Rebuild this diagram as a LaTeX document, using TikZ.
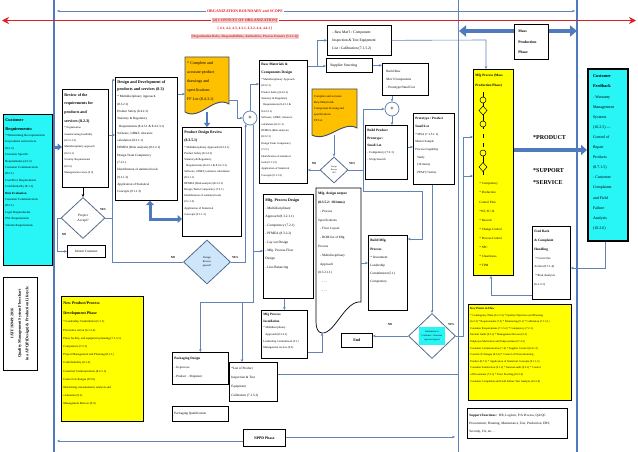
\documentclass[tikz,border=0pt]{standalone}
\usepackage{fontspec}
\setmainfont{Liberation Serif}
\usetikzlibrary{arrows.meta,shapes.geometric,calc}
\newcommand{\fs}[2]{\fontsize{#1}{#2}\selectfont}
\newcommand{\bxt}[3]{\parbox[c][#2pt][t]{#1pt}{\raggedright #3}}
\newcommand{\bxm}[3]{\parbox[c][#2pt][c]{#1pt}{\raggedright #3}}
\newcommand{\bxc}[3]{\parbox[c][#2pt][c]{#1pt}{\centering #3}}
\definecolor{cb}{RGB}{100,132,184}
\definecolor{tb}{RGB}{79,122,190}
\definecolor{cy}{RGB}{40,245,245}
\definecolor{yl}{RGB}{255,255,0}
\definecolor{og}{RGB}{255,192,0}
\definecolor{rd}{RGB}{222,30,36}
\definecolor{pk}{RGB}{242,208,208}
\definecolor{lb}{RGB}{205,230,250}
\definecolor{dg}{RGB}{84,108,138}
\definecolor{dk}{RGB}{62,80,100}
\begin{document}
\begin{tikzpicture}[x=1pt,y=-1pt,
 bx/.style={draw=black,line width=0.7pt,anchor=north west,inner sep=2pt,fill=white},
 conn/.style={draw=cb,line width=0.6pt},
 arr/.style={conn,-{Stealth[length=3pt,width=2.6pt]}},
 thk/.style={draw=tb,line width=3pt,-{Triangle[length=4.5pt,width=7pt]}},
 lbl/.style={font=\bfseries\fs{3}{3},inner sep=0pt},
 dia/.style={diamond,draw=dg,line width=0.8pt,fill=white,inner sep=0pt,align=center},
 plus/.style={circle,draw=cb,line width=0.8pt,fill=white,minimum size=14pt,inner sep=0pt,font=\bfseries\fs{6}{6}},
 docst/.style={fill=og,draw=dk,line width=0.9pt}]
\fill[white] (0,0) rectangle (638,452);
\useasboundingbox (0,0) rectangle (638,452);

% boundary lines
\draw[tb,line width=2.2pt] (54,0) -- (54,452);
\draw[tb,line width=2.2pt] (577,0) -- (577,452);
\draw[cb,line width=0.7pt] (458,0) -- (458,452);

% top titles
\node[font=\bfseries\fs{3.9}{4},text=rd,inner sep=1pt] (t1) at (245,11) {ORGANIZATION BOUNDARY and SCOPE};
\node[font=\bfseries\fs{3.9}{4},text=rd,fill=pk,inner sep=1pt] (t2) at (245,20.5) {[4] CONTEXT OF ORGANIZATION]};
\node[font=\bfseries\fs{3.6}{4},text=rd,inner sep=1pt] (t3) at (245,28.5) {[ 4.1, 4.2, 4.3, 4.3.1, 4.3.2, 4.4, 4.4.1 ]};
\node[font=\bfseries\fs{3.3}{4},text=rd,fill=pk,inner sep=1pt] (t4) at (245,36.5) {[Organization Roles, Responsibilities, Authorities, Process Owners (5.3.1.2)]};
\coordinate (a11l) at (57,11);
\coordinate (a11r) at (575,11);
\draw[arr] (t1.west) -- (a11l);
\draw[arr] (t1.east) -- (a11r);
\coordinate (r21l) at (2,20.5);
\coordinate (r21r) at (636,20.5);
\draw[rd,line width=1.8pt,-{Stealth[length=7pt,width=7pt]}] (t2.west) -- (r21l);
\draw[rd,line width=1.8pt,-{Stealth[length=7pt,width=7pt]}] (t2.east) -- (r21r);

% ---------- nodes ----------
\node[bx,fill=cy] (cr) at (3,114) {\bxt{45}{147}{\vspace*{2pt}{\bfseries\fs{4.3}{9}Customer\\Requirements:\par}{\fs{3.1}{6.4}* Determining the requirements\\for products and services\\(8.2.2)\\* Customer Specific\\Requirements (4.3.2)\\* Customer Communication\\(8.2.1)\\* Cost/Price Requirements\\* Confidentiality (8.1.1)\\{\bfseries Risk Evaluation}\\* Customer Communication\\(8.2.1)\\* Legal Requirements\\* PSC Requirements\\* Volume Requirements\par}}};

\node[bx] (rev) at (62,89) {\bxt{42}{94}{\vspace*{2pt}{\bfseries\fs{4}{8.7}Review of the\\requirements for\\products and\\services (8.2.3)\par}{\fs{2.8}{6.4}* Organization\\manufacturing feasibility\\(8.2.3.1.3)\\* Multidisciplinary approach\\(8.2.3.1)\\* Scrutiny Requirements\\(8.2.3)\\* Management review (9.3)\par}}};

\node[dia,minimum width=44pt,minimum height=41pt,font=\fs{3.4}{5}] (pa) at (83,218) {Project\\Accept?};
\node[bx] (inf) at (67,245) {\bxc{34}{8}{\fs{3.3}{4}Inform Customer}};

\node[bx] (dd) at (115,77) {\bxt{58}{119}{\vspace*{1pt}{\bfseries\fs{4.1}{7.3}Design and Development of\\products and services (8.3)\par}{\fs{3.2}{7.3}* Multidisciplinary Approach\\(8.3.2.1)\\* Product Safety (8.4.2.3)\\* Statutory \& Regulatory\\\hspace*{2pt}Requirements (8.4.3.1 \& 8.4.2.3.1)\\* Software, GD\&T, tolerance\\calculation (8.3.1.1)\\* DFMEA (Risk analysis) (8.3.2.1)\\* Design Team Competency\\(7.2.1)\\* Identification of statistical tools\\(9.1.1.2)\\* Application of Statistical\\Concepts (9.1.1.3)\par}}};

\draw[docst] (185,57) -- (229,57) -- (229,104) .. controls (214,95) and (200,121) .. (185,112) -- cycle;
\node[anchor=north west,inner sep=2pt] (doc1) at (185,57) {\bxt{40}{51}{\vspace*{2pt}{\fs{4.1}{9}* Complete and\\accurate product\\drawings and\\specifications\\* FF Lot (8.4.3.1)\par}}};

\node[plus] (c1) at (250,118) {+};

\node[bx] (pdr) at (182,127) {\bxt{55}{105}{\vspace*{2pt}{\bfseries\fs{3.8}{8}Product Design Review\\(8.3.5.1)\par}{\fs{2.9}{6.1}* Multidisciplinary Approach (8.3.2.1)\\* Product Safety (8.3.2.3)\\* Statutory \& Regulatory\\\hspace*{2pt}Requirements (8.4.3.1 \& 8.4.2.3.1)\\* Software, GD\&T, tolerance calculation\\(8.3.1.1)\\* DFMEA (Risk analysis) (8.3.2.1)\\* Design Team Competency (7.2.1)\\* Identification of statistical tools\\(9.1.1.2)\\Application of Statistical\\Concepts (9.1.1.3)\par}}};

\node[dia,fill=lb,minimum width=47pt,minimum height=44pt,font=\fs{2.7}{4}] (drp) at (207,262) {Design\\Review\\passed?};

\node[bx] (rmc) at (259,60) {\bxt{44}{119}{\vspace*{1pt}{\bfseries\fs{3.6}{8}Raw Materials \&\\Components Design\par}{\fs{2.8}{6.4}* Multidisciplinary Approach\\(8.3.2.1)\\* Product Safety (8.4.2.3)\\* Statutory \& Regulatory\\\hspace*{2pt}Requirements (8.4.3.1 \&\\8.4.2.3.1)\\* Software, GD\&T, tolerance\\calculation (8.3.1.1)\\* DFMEA (Risk analysis)\\(8.3.2.1)\\* Design Team Competency\\(7.2.1)\\* Identification of statistical\\tools (9.1.1.2)\\* Application of Statistical\\Concepts (9.1.1.3)\par}}};

\draw[docst] (312,89) -- (357,89) -- (357,128) .. controls (343,120) and (327,143) .. (312,135) -- cycle;
\node[anchor=north west,inner sep=2pt] (doc2) at (312,89) {\bxt{41}{42}{\vspace*{4pt}{\fs{3}{6}Complete and accurate\\Raw Material \&\\Component drawing and\\specifications\\* FF Lot\par}}};

\node[bx] (rmi) at (327,25) {\bxm{60}{26}{\fs{3.7}{8}\hspace*{3pt}- Raw Mat'l / Component\\\hspace*{3pt}Inspection \& Test Equipment\\\hspace*{3pt}List / Calibration (7.1.5.2)}};
\node[bx] (ss) at (326,58) {\bxm{42}{10}{\fs{3.7}{4}\hspace*{2pt}Supplier Sourcing}};
\node[bx] (brm) at (382,63) {\bxm{42}{28}{\fs{3.3}{8}\hspace*{2pt}Build Raw\\\hspace*{2pt}Mat'l Components\\\hspace*{2pt}- Prototype/Small Lot}};
\node[plus] (c2) at (392,109) {+};
\node[bx] (bpp) at (365,125) {\bxt{38}{50}{\vspace*{2pt}{\bfseries\fs{3.4}{7.3}Build Product\\Prototype /\\Small Lot\par}{\fs{3.1}{7.3}- Competency (7.2.1)\\- Scrap/rework\par}}};
\node[bx] (pps) at (413,113) {\bxt{37}{67}{\vspace*{2pt}{\bfseries\fs{3.3}{7.7}Prototype / Product\\Small Lot\par}{\fs{3.1}{7.7}* MSA (7.1.5.1.1)\\* Master Sample\\* Process Capability\\\hspace*{2pt}Study\\\hspace*{2pt}(10 items)\\\hspace*{2pt}PPAP (7 items)\par}}};

\node[dia,minimum width=28pt,minimum height=26pt,font=\fs{2.1}{2.8}] (sd) at (334,170) {Design\\Review\\OK?};

\node[bx] (mpd) at (263,194) {\bxt{46}{100}{\vspace*{2pt}{\bfseries\fs{3.9}{8.4}Mfg. Process Design\par}{\fs{3.4}{8.4}- Multidisciplinary\\Approach (8.3.2.1.1)\\- Competency (7.2.1)\\- PFMEA (8.3.2.2)\\- Lay out Design\\- Mfg. Process Flow\\Design\\- Line Balancing\par}}};

\draw[black,line width=0.7pt,fill=white] (316,188) -- (361,188) -- (361,302) .. controls (345,300) and (335,334) .. (322,333) .. controls (318,333) and (316,328) .. (316,322) -- cycle;
\node[anchor=north west,inner sep=2pt] (mdo) at (316,188) {\bxt{41}{113}{\vspace*{2pt}{\bfseries\fs{3.5}{8.8}Mfg. design output\\(8.3.5.2: 10 items)\par}{\fs{3.3}{8.8}\hspace*{2pt}- Process\\Specifications\\\hspace*{2pt}- Floor Layout\\\hspace*{2pt}- BOM list of Mfg\\Process\\\hspace*{2pt}- Multidisciplinary\\\hspace*{2pt}Approach\\(8.3.2.1.1)\\\hspace*{4pt}- ...\\\hspace*{4pt}- ...\par}}};

\node[bx] (bmp) at (368,235) {\bxt{35}{71}{\vspace*{2pt}{\bfseries\fs{3.5}{8.2}Build Mfg.\\Process\par}{\fs{3.3}{8.2}* Investment\\* Leadership\\Commitment (5.1)\\* Competency\par}}};

\node[dia,minimum width=47pt,minimum height=45pt] (cad) at (432,336) {};
\node[fill=cy,inner sep=1pt,minimum width=26pt,minimum height=18pt,font=\fs{2.4}{3.6},align=center] (cadt) at (432,336) {Submission to\\Customer / Customer\\approval agreed};
\node[bx] (end) at (341,333) {\bxc{27}{10}{\bfseries\fs{4}{5}End}};

\node[bx,fill=yl,line width=0.8pt] (mfg) at (473,69) {\bxt{36}{202}{\vspace*{3pt}{\bfseries\fs{3.4}{10}Mfg Process (Mass\\Production Phase)\par}\vspace{89pt}{\fs{3.2}{9.1}\hspace*{4pt}* Competency\\\hspace*{4pt}* Production\\\hspace*{4pt}Control Plan\\\hspace*{4pt}*WI, SU, R\\\hspace*{4pt}* Rework\\\hspace*{4pt}* Change Control\\\hspace*{4pt}* Process Control\\\hspace*{4pt}* SPC\\\hspace*{4pt}* Cleanliness\\\hspace*{4pt}* TPM\par}}};
% flow glyph inside Mfg Process box
\draw[black,line width=0.5pt] (483,92) -- (483,129) (483,134) -- (483,138) (483,143) -- (483,147) (483,150) -- (483,175);
\filldraw[fill=yl,draw=black,line width=0.5pt] (483,100) circle[radius=3pt];
\filldraw[fill=yl,draw=black,line width=0.5pt] (483,106) -- (487,110.5) -- (483,115) -- (479,110.5) -- cycle;
\filldraw[fill=yl,draw=black,line width=0.5pt] (483,124) circle[radius=3pt];
\filldraw[fill=yl,draw=black,line width=0.5pt] (483,153) circle[radius=3pt];
\filldraw[fill=yl,draw=black,line width=0.5pt] (483,162.5) -- (487,167) -- (483,171.5) -- (479,167) -- cycle;

\node[bx] (mpp) at (514,24) {\bxm{30}{31}{\bfseries\fs{3.8}{10.5}\hspace*{2pt}Mass\\\hspace*{2pt}Production\\\hspace*{2pt}Phase}};

\node[font=\bfseries\fs{6}{6},anchor=west,inner sep=0pt] (prod) at (533,138) {*PRODUCT};
\node[font=\bfseries\fs{6}{6},anchor=west,inner sep=0pt] (supp) at (533,171) {*SUPPORT};
\node[font=\bfseries\fs{6}{6},anchor=west,inner sep=0pt] (serv) at (533,183) {*SERVICE};

\node[bx,fill=cy,line width=2pt,inner sep=3pt] (cf) at (587,68) {\bxt{34}{166}{\vspace*{3pt}{\bfseries\fs{4.3}{10.1}\hspace*{2pt}Customer\\\hspace*{2pt}Feedback\par}{\fs{4}{10.1}\hspace*{2pt}- Warranty\\\hspace*{2pt}Management\\\hspace*{2pt}Systems\\\hspace*{2pt}(10.2.5) ---\\\hspace*{2pt}Control of\\\hspace*{2pt}Repair\\\hspace*{2pt}Products\\\hspace*{2pt}(8.7.1.5)\\\hspace*{2pt}- Customer\\\hspace*{2pt}Complaints\\\hspace*{2pt}and Field\\\hspace*{2pt}Failure\\\hspace*{2pt}Analysis\\\hspace*{2pt}(10.2.6)\par}}};

\node[bx] (fch) at (532,226) {\bxt{34}{69}{\vspace*{2pt}{\bfseries\fs{3.4}{8.8}Feed Back\\\& Complaint\\Handling\par}{\fs{3.1}{8.8}\hspace*{1pt}* Corrective\\Action (8.7.1.4)\\\hspace*{1pt}* Risk Analysis\\(6.1.2.1)\par}}};

\node[bx,fill=yl,line width=0.8pt] (kp) at (468,304) {\bxt{99}{92}{\vspace*{1pt}{\bfseries\fs{3}{6.6}Key Points in Flow\par}{\fs{2.8}{6.6}* Contingency Plans (6.1.2.3) * Quality Objectives and Planning\\(6.2.2) * Requirements (7.2) * Monitoring (9.1) * Calibration (7.1.5.1)\\* Customer Requirements (7.1.5.2) * Competency (7.2.1)\\* Internal Audit (9.2.2) * Management Review (9.3)\\* Employee Motivation and Empowerment (7.3.2)\\* Customer Communication (7.4) * Supplier Control (8.4.1.2)\\* Control of Changes (8.5.6) * Control of Nonconforming\\Product (8.7.1) * Application of Statistical Concepts (9.1.1.3)\\* Customer Satisfaction (9.1.2) * Internal audit (9.2.2) * Control\\of Documents (7.5.3) * Error Proofing (10.2.4)\\* Customer Complaints and Field Failure Test Analysis (10.2.6)\par}}};

\node[bx] (sf) at (467,408) {\bxm{96}{26}{\fs{3.3}{8}\textbf{Support Functions :}\ \ HR, Logistic, P/A Process, QA/QC\\Procurement, Planning, Maintenance, Test, Production, EHS,\\Security, I/A, etc. ..}};

\node[draw=black,line width=0.8pt,rotate=90,minimum width=93pt,minimum height=34pt,inner sep=1pt,font=\bfseries\fs{4}{7.5},align=center] (rot) at (20,323.5) {IATF 16949:2016\\Quality Management System Flowchart\\in a APQP (Design) \& Production Lifecycle};

\node[bx,fill=yl,line width=0.9pt] (npd) at (61,296) {\bxt{78}{121}{\vspace*{3pt}{\bfseries\fs{4}{10.5}New Product/Process\\Development Phase\par}{\fs{3}{8.2}* Leadership Commitment (5.1.1)\\* Preventive action (6.1.2.2)\\* Plant, facility, and equipment planning (7.1.3.1)\\* Competence (7.2.1)\\* Project Management and Planning (8.1.1)\\* Confidentiality (8.1.2)\\* Customer Communication (8.2.1.1)\\* Control of changes (8.5.6)\\* Monitoring, measurement, analysis and\\evaluation (9.1)\\* Management Review (9.3)\par}}};

\node[bx] (mpi) at (261,310) {\bxt{42}{44}{\vspace*{1pt}{\bfseries\fs{3.3}{6.6}Mfg Process\\Installation\par}{\fs{2.9}{6.6}* Multidisciplinary\\\hspace*{2pt}Approach (8.3.2.1)\\* Leadership Commitment (5.1)\\* Management review (9.3)\par}}};
\node[bx] (pkd) at (172,352) {\bxt{52}{28}{\vspace*{2.5pt}{\bfseries\fs{3.4}{9}Packaging Design\par}{\fs{3.2}{9}- In-process\\- Product\ \ - Shipment\par}}};
\node[bx] (pkq) at (172,406) {\bxm{52}{11}{\fs{3.3}{4}Packaging Qualification}};
\node[bx] (lpi) at (229,362) {\bxt{44}{35}{\vspace*{2.5pt}{\fs{3.3}{9}*List of Product\\Inspection \& Test\\Equipment\\*Calibration (7.1.5.2)\par}}};
\node[bx] (nppd) at (243,429) {\bxc{38}{13}{\bfseries\fs{3.8}{4}NPPD Phase}};

% labels
\node[lbl] (l1) at (103,210) {YES};
\node[lbl] (l2) at (64,235) {NO};
\node[lbl] (l3) at (173,258) {NO};
\node[lbl] (l4) at (235,258) {YES};
\node[lbl] (l5) at (314,164) {NO};
\node[lbl] (l6) at (352,164) {YES};
\node[lbl] (l7) at (390,325) {NO};
\node[lbl] (l8) at (451,325) {YES};

% ---------- connectors ----------
\coordinate (y147) at (0,147);
\draw[thk] (cr.east |- y147) -- (rev.west |- y147);
\draw[black,line width=0.6pt,-{Stealth[length=3pt,width=2.6pt]}] (rev.south -| pa.north) -- (pa.north);
\coordinate (jy) at (112,218);
\coordinate (jt) at (112,80);
\draw[arr] (pa.east) -- (jy) -- (jt) -- (jt -| dd.west);
\draw[conn] (drp.west) -| (jy);
\coordinate (jn) at (57,218);
\draw[arr] (pa.west) -- (jn) |- (inf.west);
\coordinate (y135) at (0,135);
\draw[arr] (rev.east |- y135) -- (dd.west |- y135);
\coordinate (y94) at (0,94);
\draw[arr] (dd.east |- y94) -- (doc1.west |- y94);
\coordinate (x207) at (207,0);
\draw[tb,line width=2pt,-{Triangle[length=4pt,width=6pt]}] (x207 |- doc1.south) -- (x207 |- pdr.north);
\coordinate (j1a) at (237,100);
\draw[arr] (doc1.east |- j1a) -- (j1a) |- (c1.west);
\coordinate (y84) at (0,84);
\draw[arr] (c1.north) |- (rmc.west |- y84);
\draw[arr] (drp.east) -| (c1.-125);
\coordinate (tb1) at (253,302);
\draw[arr] (c1.-65) -- (c1.-65 |- tb1) -| (pkd.north);
\coordinate (j1) at (242,302);
\draw[arr] (j1) -- (j1 |- lpi.north);
\coordinate (j2) at (253,251);
\draw[arr] (j2) -- (j2 -| mpd.west);
\draw[arr] (mpd.south -| mpi.north) -- (mpi.north);
\coordinate (j4) at (322,352);
\coordinate (mdob) at (322,333);
\draw[arr] (mpi.east |- j4) -- (j4) -- (mdob);
\coordinate (y263) at (0,263);
\draw[arr] (mdo.east |- y263) -- (bmp.west |- y263);
\coordinate (j5) at (317,66);
\draw[arr] (rmc.east |- j5) -- (ss.west |- j5);
\draw[arr] (j5) |- (rmi.west);
\draw[arr] (ss.east) -- (ss.east -| brm.west);
\draw[arr] (c2.north |- brm.south) -- (c2.north);
\draw[arr] (c2.south) -- (c2.south |- bpp.north);
\draw[arr] (bpp.east |- y147) -- (pps.west |- y147);
\draw[arr] (pps.south -| cad.north) -- (cad.north);
\draw[arr] (cad.west) -- (end.east |- cad.west);
\coordinate (jc) at (463,336);
\coordinate (jc2) at (463,176);
\coordinate (jc3) at (463,137);
\draw[arr] (cad.east) -- (jc) -- (jc2) -- (jc2 -| mfg.west);
\draw[arr] (jc2) -- (jc3) -- (jc3 -| mfg.west);
\draw[arr] (doc2.south -| sd.north) -- (sd.north);
\draw[arr] (sd.west) -- (sd.west -| rmc.east);
\coordinate (js) at (363,170);
\coordinate (js1) at (363,109);
\coordinate (js2) at (363,191);
\coordinate (js3) at (422,191);
\coordinate (js4) at (422,239);
\draw[conn] (sd.east) -- (js);
\draw[arr] (js) -- (js1) -- (c2.west);
\draw[arr] (js) -- (js2) -- (js3) -- (js4) -- (js4 -| bmp.east);
\coordinate (j7) at (486,40);
\draw[arr] (rmi.east) -- (j7) -- (j7 |- mfg.north);
\coordinate (m31) at (459,31);
\coordinate (r31) at (577,31);
\draw[tb,line width=4.5pt,-{Triangle[length=7pt,width=11pt]}] (mpp.west |- m31) -- (m31);
\draw[tb,line width=4.5pt,-{Triangle[length=7pt,width=11pt]}] (mpp.east |- r31) -- (r31);
\coordinate (y150) at (0,150);
\draw[tb,line width=4pt,-{Triangle[length=6pt,width=10pt]}] (mfg.east |- y150) -- (cf.west |- y150);
\coordinate (jf) at (605,268);
\draw[arr] (cf.south -| jf) -- (jf) -- (jf -| fch.east);
\coordinate (jg) at (491,295);
\draw[arr] (fch.west |- jg) -- (jg) -- (jg |- mfg.south);
\coordinate (jl) at (458,374);
\draw[conn] (lpi.east |- jl) -- (jl);
\coordinate (jn1) at (57,441);
\coordinate (jn2) at (455,437);
\draw[arr] (nppd.west |- jn1) -- (jn1);
\draw[arr] (nppd.east |- jn2) -- (jn2);
\coordinate (bb1) at (150,219);
\draw[tb,line width=3pt,{Triangle[length=4.5pt,width=8pt]}-{Triangle[length=4.5pt,width=8pt]}] (bb1 |- dd.south) -- (bb1) -- (bb1 -| pdr.west);
\end{tikzpicture}
\end{document}
